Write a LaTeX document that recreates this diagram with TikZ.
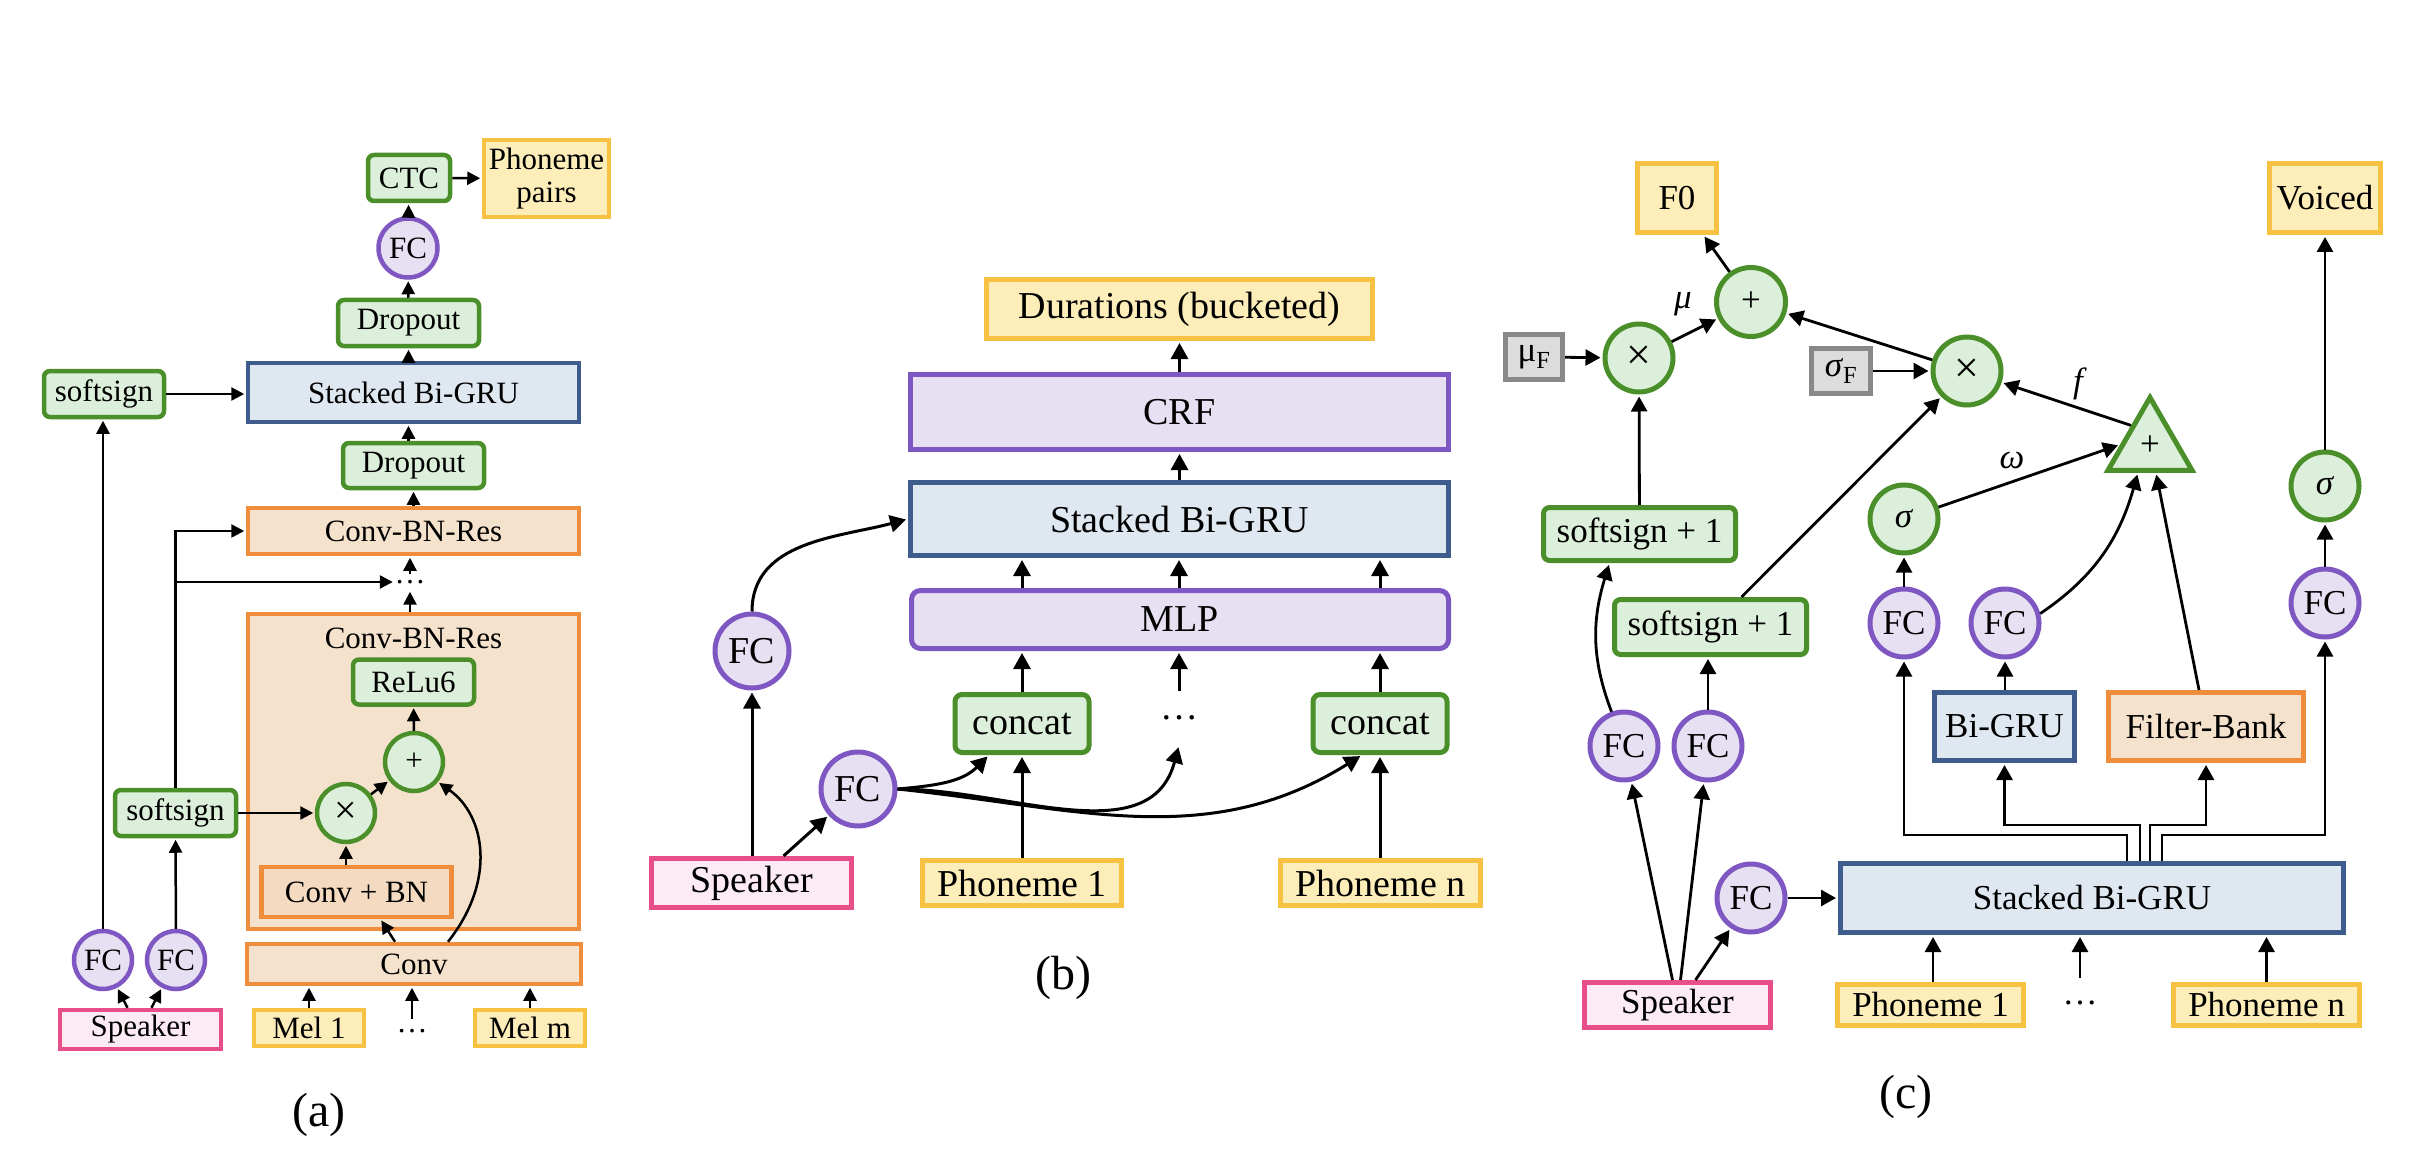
\documentclass[tikz,border=0pt]{standalone}
\usepackage{fontspec}
\setmainfont{Liberation Serif}
\usetikzlibrary{arrows.meta,shapes.geometric,calc}
\definecolor{gF}{HTML}{DCEFDA}
\definecolor{gD}{HTML}{4A8F2A}
\definecolor{pF}{HTML}{E6E0F2}
\definecolor{pD}{HTML}{7E57C2}
\definecolor{bF}{HTML}{DFE7F1}
\definecolor{bD}{HTML}{3E5D8C}
\definecolor{oF}{HTML}{F5E2CC}
\definecolor{oF2}{HTML}{F3DAC0}
\definecolor{oD}{HTML}{F08D3C}
\definecolor{yF}{HTML}{FDEDB9}
\definecolor{yD}{HTML}{F7C242}
\definecolor{kF}{HTML}{FCEAF4}
\definecolor{kD}{HTML}{E84E8A}
\definecolor{grF}{HTML}{DCDCDC}
\definecolor{grD}{HTML}{888888}
\newcommand{\szA}{\fontsize{31}{34}\selectfont}
\newcommand{\szB}{\fontsize{38}{42}\selectfont}
\newcommand{\szC}{\fontsize{35}{38}\selectfont}
\newcommand{\szL}{\fontsize{48}{52}\selectfont}
\tikzset{
  nd/.style={inner sep=0pt, align=center},
  sz/.style 2 args={minimum width=#1pt, minimum height=#2pt},
  gbox/.style={nd, draw=gD, fill=gF, rounded corners=6pt},
  pbox/.style={nd, draw=pD, fill=pF},
  bbox/.style={nd, draw=bD, fill=bF},
  obox/.style={nd, draw=oD, fill=oF},
  ybox/.style={nd, draw=yD, fill=yF},
  kbox/.style={nd, draw=kD, fill=kF},
  grbox/.style={nd, draw=grD, fill=grF},
  pcirc/.style={nd, circle, draw=pD, fill=pF},
  gcirc/.style={nd, circle, draw=gD, fill=gF},
  pa/.style={line width=4.5pt, font=\szA},
  pb/.style={line width=5pt, font=\szB},
  pc/.style={line width=5pt, font=\szC},
  arrA/.style={-{Triangle[length=13pt,width=13pt]}, line width=2.5pt, shorten >=1.5pt},
  arrB/.style={-{Triangle[length=16pt,width=17pt]}, line width=3pt, shorten >=2pt},
  arrC/.style={-{Triangle[length=15pt,width=16pt]}, line width=2.8pt, shorten >=2pt},
}
\begin{document}
\begin{tikzpicture}[x=1pt,y=-1pt]
\useasboundingbox[fill=white] (0,0) rectangle (2428,1158);

% ================= Panel (a) =================
\node[gbox,pa,sz={82}{46}] (ctc) at (409,178) {CTC};
\node[ybox,pa,sz={125}{77},font=\fontsize{31}{33}\selectfont] (pp) at (546.5,178.5) {Phoneme\\pairs};
\node[pcirc,pa,minimum size=59pt] (fca) at (408,248) {FC};
\node[gbox,pa,sz={141}{46}] (do1) at (408.5,323) {Dropout};
\node[bbox,pa,sz={331}{59}] (sga) at (413.5,392.5) {Stacked Bi-GRU};
\node[gbox,pa,sz={120}{46}] (ss1) at (104,394) {softsign};
\node[gbox,pa,sz={141}{45}] (do2) at (413.5,465.5) {Dropout};
\node[obox,pa,sz={331}{46}] (cbr1) at (413.5,531) {Conv-BN-Res};
\node[nd,font=\szA,minimum height=16pt] (dotsA) at (410,582) {…};
\node[obox,pa,sz={331}{315}] (cbr2) at (413.5,771.5) {};
\node[nd,font=\szA] (cbrT) at (413.5,638) {Conv-BN-Res};
\node[gbox,pa,sz={121}{45}] (relu) at (413.5,682) {ReLu6};
\node[gcirc,pa,minimum size=58pt] (plusA) at (414,762) {+};
\node[gcirc,pa,minimum size=58pt,font=\fontsize{40}{40}\selectfont] (timesA) at (346,813) {×};
\node[gbox,pa,sz={121}{46}] (ss2) at (175.5,813) {softsign};
\node[nd,draw=oD,fill=oF2,pa,sz={190}{50}] (cbn) at (356.5,892) {Conv + BN};
\node[obox,pa,sz={334}{40}] (conv) at (414,964) {Conv};
\node[pcirc,pa,minimum size=58pt] (fc1) at (103,960) {FC};
\node[pcirc,pa,minimum size=58pt] (fc2) at (176,960) {FC};
\node[kbox,pa,sz={161}{39}] (spkA) at (140.5,1029.5) {Speaker};
\node[ybox,pa,sz={110}{36}] (mel1) at (309,1028) {Mel 1};
\node[ybox,pa,sz={110}{36}] (melm) at (530,1028) {Mel m};
\node[nd,font=\szA,minimum height=24pt] (dotsM) at (412,1031) {…};
\node[nd,font=\szL] (labA) at (319,1115) {(a)};

\draw[arrA] (ctc) -- (pp);
\draw[arrA] (fca) -- (ctc);
\draw[arrA] (do1) -- (fca);
\draw[arrA] (sga.north -| do1) -- (do1);
\draw[arrA] (ss1) -- (ss1 -| sga.west);
\draw[arrA] (do2.north -| do1) -- (sga.south -| do1);
\draw[arrA] (cbr1.north -| do2) -- (do2);
\draw[arrA] (dotsA.north) -- (dotsA.north |- cbr1.south);
\draw[arrA] (cbr2.north -| dotsA) -- (dotsA.south);
\draw[arrA] (fc1) -- (fc1 |- ss1.south);
\draw[arrA] (fc2) -- (ss2);
\draw[arrA] (ss2) -- (timesA);
\draw[arrA] (ss2.north) -- (ss2.north |- cbr1) -- (cbr1.west);
\draw[arrA] (ss2.north |- dotsA) -- (dotsA.west);
\draw[arrA] (cbn.north -| timesA) -- (timesA);
\draw[arrA] (timesA) -- (plusA);
\draw[arrA] (plusA) -- (relu);
\draw[arrA] ([xshift=-19pt]conv.north) -- ([xshift=24pt]cbn.south);
\draw[arrA] ([xshift=34pt]conv.north) .. controls (497,880) and (485,815) .. (plusA.-40);
\draw[arrA] ([xshift=-13pt]spkA.north) -- (fc1);
\draw[arrA] ([xshift=11pt]spkA.north) -- (fc2);
\draw[arrA] (mel1) -- (mel1 |- conv.south);
\draw[arrA] (melm) -- (melm |- conv.south);
\draw[arrA] (dotsM.north) -- (dotsM.north |- conv.south);

% ================= Panel (b) =================
\node[ybox,pb,sz={386}{59}] (dur) at (1179.5,309) {Durations (bucketed)};
\node[pbox,pb,sz={538}{75}] (crf) at (1179.5,412) {CRF};
\node[bbox,pb,sz={538}{73}] (sgb) at (1179.5,519) {Stacked Bi-GRU};
\node[pbox,pb,sz={537}{58},rounded corners=9pt] (mlp) at (1180,619.5) {MLP};
\node[gbox,pb,sz={134}{58},rounded corners=7pt] (cc1) at (1022,723.5) {concat};
\node[gbox,pb,sz={134}{58},rounded corners=7pt] (cc2) at (1380,723.5) {concat};
\node[nd,font=\szB,minimum height=54pt] (dotsB) at (1179,718) {…};
\node[pcirc,pb,minimum size=74pt] (fcb1) at (752,651) {FC};
\node[pcirc,pb,minimum size=74pt] (fcb2) at (858,789) {FC};
\node[kbox,pb,sz={200}{49}] (spkB) at (751.5,883) {Speaker};
\node[ybox,pb,sz={199}{45}] (ph1B) at (1022,883) {Phoneme 1};
\node[ybox,pb,sz={200}{45}] (phnB) at (1380.5,883) {Phoneme n};
\node[nd,font=\szL] (labB) at (1063,978) {(b)};

\draw[arrB] (crf.north -| dur) -- (dur);
\draw[arrB] (sgb) -- (crf);
\draw[arrB] (mlp.north -| cc1) -- (sgb.south -| cc1);
\draw[arrB] (mlp.north -| dotsB) -- (sgb.south -| dotsB);
\draw[arrB] (mlp.north -| cc2) -- (sgb.south -| cc2);
\draw[arrB] (cc1) -- (cc1 |- mlp.south);
\draw[arrB] (dotsB.north) -- (dotsB.north |- mlp.south);
\draw[arrB] (cc2) -- (cc2 |- mlp.south);
\draw[arrB] (ph1B) -- (ph1B |- cc1.south);
\draw[arrB] (phnB.north -| cc2) -- (cc2);
\draw[arrB] (spkB.north -| fcb1) -- (fcb1);
\draw[arrB] (fcb1.north) to[out=90,in=195] (sgb.west);
\draw[arrB] ([xshift=32pt]spkB.north) -- (fcb2);
\draw[arrB] (fcb2.east) to[out=5,in=225] ([xshift=-33pt]cc1.south);
\draw[arrB] (fcb2.east) to[out=0,in=255] (dotsB.south);
\draw[arrB] (fcb2.east) to[out=-6,in=212] ([xshift=-18pt]cc2.south);

% ================= Panel (c) =================
\node[ybox,pc,sz={79}{69}] (f0) at (1677,198) {F0};
\node[ybox,pc,sz={111}{69}] (voiced) at (2325,198) {Voiced};
\node[gcirc,pc,minimum size=69pt] (plusC) at (1751,302) {+};
\node[gcirc,pc,minimum size=68pt,font=\fontsize{44}{44}\selectfont] (times1C) at (1639,358) {×};
\node[grbox,pc,sz={57}{45}] (muF) at (1534,357) {μ\textsubscript{F}};
\node[grbox,pc,sz={59}{45}] (sigF) at (1841,371) {\textit{σ}\textsubscript{F}};
\node[gcirc,pc,minimum size=68pt,font=\fontsize{44}{44}\selectfont] (times2C) at (1967,371) {×};
\node[nd,regular polygon,regular polygon sides=3,draw=gD,fill=gF,pc,minimum size=97pt] (tri) at (2150,446) {+};
\node[gcirc,pc,minimum size=68pt] (sig1) at (1904,519) {\textit{σ}};
\node[gcirc,pc,minimum size=68pt] (sig2) at (2325,486) {\textit{σ}};
\node[gbox,pc,sz={192}{53}] (ssp1) at (1639.5,534) {softsign + 1};
\node[gbox,pc,sz={192}{55}] (ssp2) at (1710.5,627) {softsign + 1};
\node[pcirc,pc,minimum size=68pt] (fcc1) at (1624,746) {FC};
\node[pcirc,pc,minimum size=68pt] (fcc2) at (1708,746) {FC};
\node[pcirc,pc,minimum size=68pt] (fcc3) at (1904,623) {FC};
\node[pcirc,pc,minimum size=68pt] (fcc4) at (2005,623) {FC};
\node[pcirc,pc,minimum size=68pt] (fcc5) at (2325,603) {FC};
\node[pcirc,pc,minimum size=68pt] (fcc6) at (1751,898) {FC};
\node[bbox,pc,sz={140}{68}] (bigru) at (2004.5,726.5) {Bi-GRU};
\node[obox,pc,sz={195}{68}] (fbank) at (2206,726.5) {Filter-Bank};
\node[bbox,pc,sz={503}{69}] (sgc) at (2092,898) {Stacked Bi-GRU};
\node[kbox,pc,sz={186}{45}] (spkC) at (1677.5,1005) {Speaker};
\node[ybox,pc,sz={186}{41}] (ph1C) at (1930.5,1005) {Phoneme 1};
\node[ybox,pc,sz={186}{41}] (phnC) at (2266.5,1005) {Phoneme n};
\node[nd,font=\szC,minimum height=50pt] (dotsC) at (2080,1003) {…};
\node[nd,font=\szL] (labC) at (1906,1097) {(c)};
\node[nd,font=\szC] (lmu) at (1683,304) {\textit{μ}};
\node[nd,font=\szC] (lf) at (2080,384) {\textit{f}};
\node[nd,font=\szC] (lom) at (2012,460) {\textit{ω}};
\coordinate (lvO) at (0,835);
\coordinate (lvI) at (0,825);

\draw[arrC] (plusC) -- (f0);
\draw[arrC] (times1C) -- (plusC);
\draw[arrC] (muF) -- (times1C);
\draw[arrC] (ssp1) -- (times1C);
\draw[arrC] (times2C) -- (plusC);
\draw[arrC] (sigF) -- (times2C);
\draw[arrC] ($(tri.corner 1)!0.41!(tri.corner 2)$) -- (times2C);
\draw[arrC] (sig1) -- ($(tri.corner 1)!0.65!(tri.corner 2)$);
\draw[arrC] ([xshift=31pt]ssp2.north) -- (times2C);
\draw[arrC] (fcc1.110) to[out=111,in=253] ([xshift=-30pt]ssp1.south);
\draw[arrC] (fcc2.north) -- (fcc2.north |- ssp2.south);
\draw[arrC] ([xshift=-5pt]spkC.north) -- (fcc1);
\draw[arrC] ([xshift=3pt]spkC.north) -- (fcc2);
\draw[arrC] ([xshift=18pt]spkC.north) -- (fcc6);
\draw[arrC] (fcc6) -- (fcc6 -| sgc.west);
\draw[arrC] (ph1C.north -| 1933,0) -- (sgc.south -| 1933,0);
\draw[arrC] (dotsC.north) -- (dotsC.north |- sgc.south);
\draw[arrC] (phnC) -- (phnC |- sgc.south);
\draw[arrC] ([xshift=35pt]sgc.north) -- ([xshift=35pt]sgc.north |- lvO) -| (fcc3.south);
\draw[arrC] ([xshift=48pt]sgc.north) -- ([xshift=48pt]sgc.north |- lvI) -| (bigru.south);
\draw[arrC] ([xshift=58pt]sgc.north) -- ([xshift=58pt]sgc.north |- lvI) -| (fbank.south);
\draw[arrC] ([xshift=70pt]sgc.north) -- ([xshift=70pt]sgc.north |- lvO) -| (fcc5.south);
\draw[arrC] (fcc3) -- (sig1);
\draw[arrC] (bigru.north -| fcc4) -- (fcc4);
\draw[arrC] (fcc5) -- (sig2);
\draw[arrC] (sig2) -- (voiced);
\draw[arrC] (fcc4.15) to[out=34,in=254] ([xshift=-12pt]tri.side 2);
\draw[arrC] ([xshift=-7pt]fbank.north) -- ([xshift=6pt]tri.side 2);
\end{tikzpicture}
\end{document}
